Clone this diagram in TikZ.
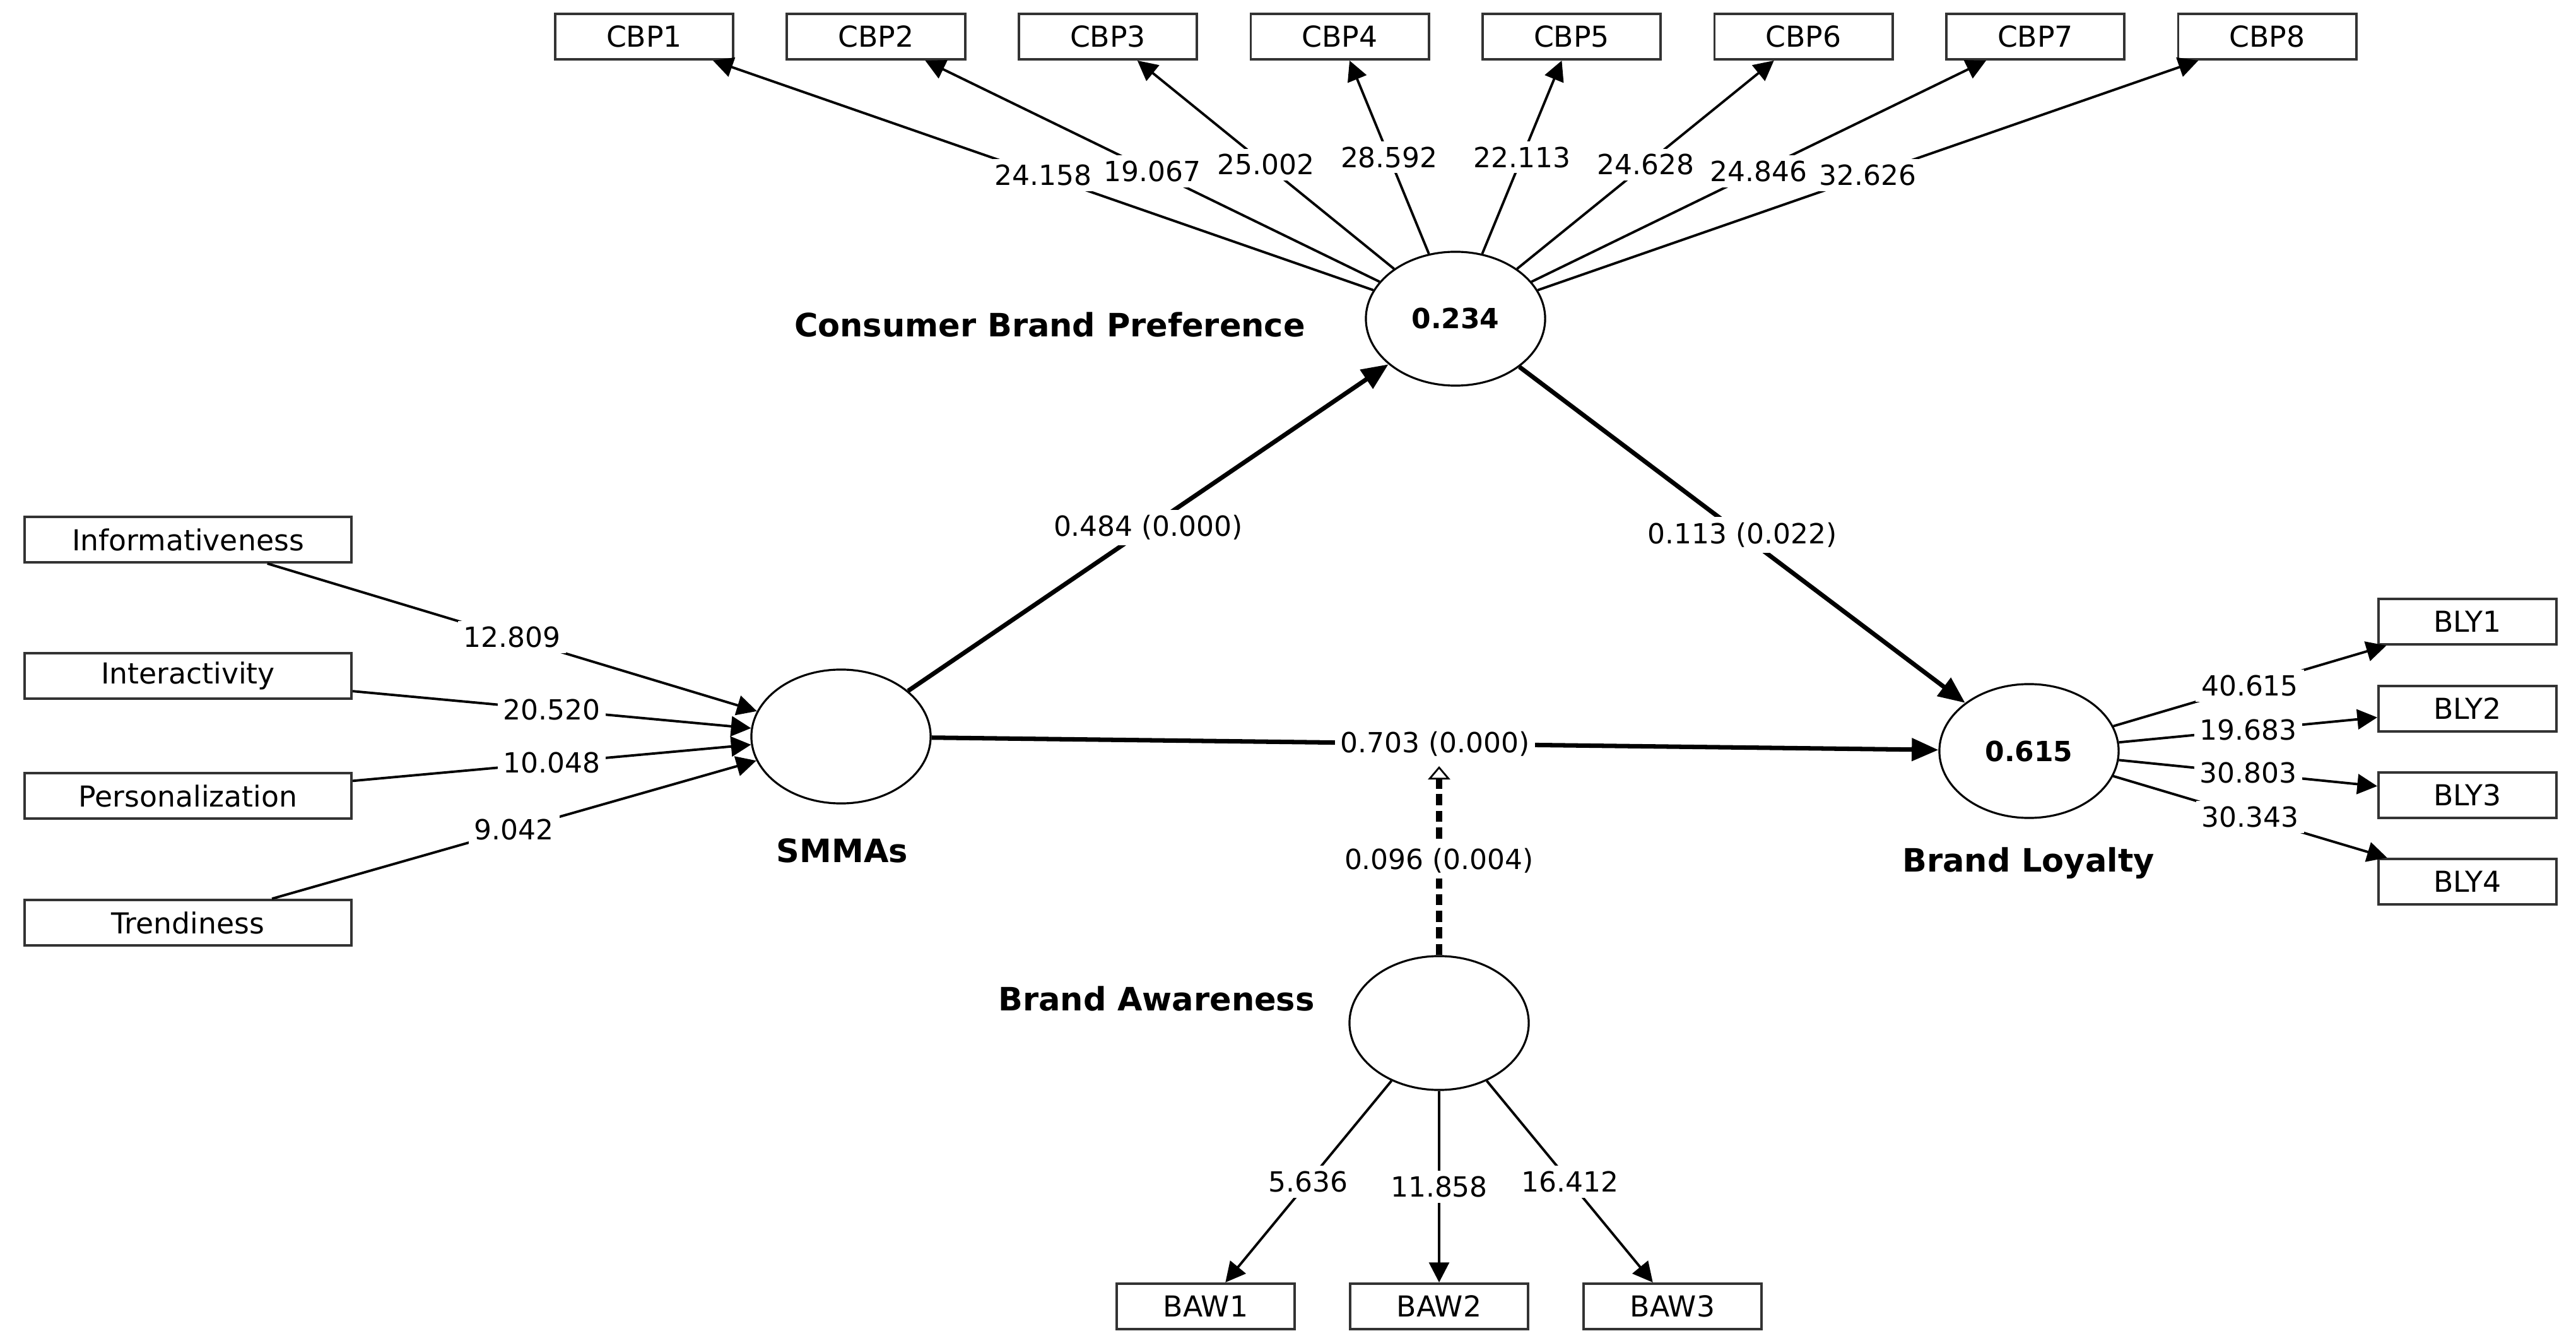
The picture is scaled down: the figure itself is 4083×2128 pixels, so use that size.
\documentclass[tikz,border=0pt]{standalone}
\usepackage{fontspec}
\setmainfont{DejaVu Sans}
\usetikzlibrary{shapes.geometric,arrows.meta}
\begin{document}
\begin{tikzpicture}[x=0.01cm,y=-0.01cm,
	    ind/.style={draw=black!80,line width=1.1pt,minimum width=2.82cm,minimum height=0.72cm,inner sep=0pt,font=\fontsize{13}{15}\selectfont},
	    wide/.style={ind,minimum width=5.18cm},
	    lv/.style={ellipse,draw,line width=0.9pt,minimum width=2.84cm,minimum height=2.12cm,inner sep=0pt,font=\fontsize{12.5}{15}\selectfont\bfseries},
	    lvtitle/.style={font=\fontsize{14.5}{17}\selectfont\bfseries},
	    loading/.style={line width=1.1pt,-{Triangle[length=9pt,width=9pt]}},
	    struct/.style={line width=2pt,-{Triangle[length=12pt,width=10pt]}},
	    modline/.style={line width=2.6pt,dash pattern=on 5pt off 2.5pt,-{Triangle[open,length=6pt,width=10pt,line width=0.8pt]}},
	    val/.style={midway,fill=white,inner sep=2.5pt,font=\fontsize{12.5}{15}\selectfont}]
	    \fill[white](0,0) rectangle (4083,2128);
	    \node[lv] (cbp) at (2307,505) {0.234};
	    \node[lv] (smma) at (1333,1167) {};
	    \node[lv] (bl) at (3216,1190) {0.615};
	    \node[lv] (ba) at (2281,1621) {};
	    \node[lvtitle] (cbptitle) at (1664,514) {Consumer Brand Preference};
	    \node[lvtitle] (smmatitle) at (1335,1348) {SMMAs};
	    \node[lvtitle] (bltitle) at (3215,1368) {Brand Loyalty};
	    \node[lvtitle] (batitle) at (1833,1582) {Brand Awareness};
	    \node[ind] (cbp1) at (1021,58) {CBP1};
	    \node[ind] (cbp2) at (1388.5,58) {CBP2};
	    \node[ind] (cbp3) at (1756,58) {CBP3};
	    \node[ind] (cbp4) at (2123.5,58) {CBP4};
	    \node[ind] (cbp5) at (2491,58) {CBP5};
	    \node[ind] (cbp6) at (2858.5,58) {CBP6};
	    \node[ind] (cbp7) at (3226,58) {CBP7};
	    \node[ind] (cbp8) at (3593.5,58) {CBP8};
	    \node[wide] (info) at (298,855) {Informativeness};
	    \node[wide] (inter) at (298,1071) {Interactivity};
	    \node[wide] (pers) at (298,1261) {Personalization};
	    \node[wide] (trend) at (298,1462) {Trendiness};
	    \node[ind] (bly1) at (3911,985) {BLY1};
	    \node[ind] (bly2) at (3911,1123) {BLY2};
	    \node[ind] (bly3) at (3911,1260) {BLY3};
	    \node[ind] (bly4) at (3911,1397) {BLY4};
	    \node[ind] (baw1) at (1911,2070) {BAW1};
	    \node[ind] (baw2) at (2281,2070) {BAW2};
	    \node[ind] (baw3) at (2651,2070) {BAW3};
	    \coordinate (mod) at (2281,1214);
	    \draw[loading](cbp)--(cbp1) node[val]{24.158};
	    \draw[loading](cbp)--(cbp2) node[val]{19.067};
	    \draw[loading](cbp)--(cbp3) node[val]{25.002};
	    \draw[loading](cbp)--(cbp4) node[val]{28.592};
	    \draw[loading](cbp)--(cbp5) node[val]{22.113};
	    \draw[loading](cbp)--(cbp6) node[val]{24.628};
	    \draw[loading](cbp)--(cbp7) node[val]{24.846};
	    \draw[loading](cbp)--(cbp8) node[val]{32.626};
	    \draw[loading](info)--(smma) node[val]{12.809};
	    \draw[loading](inter)--(smma) node[val]{20.520};
	    \draw[loading](pers)--(smma) node[val]{10.048};
	    \draw[loading](trend)--(smma) node[val]{9.042};
	    \draw[loading](bl)--(bly1) node[val]{40.615};
	    \draw[loading](bl)--(bly2) node[val]{19.683};
	    \draw[loading](bl)--(bly3) node[val]{30.803};
	    \draw[loading](bl)--(bly4) node[val]{30.343};
	    \draw[loading](ba)--(baw1) node[val]{5.636};
	    \draw[loading](ba)--(baw2) node[val]{11.858};
	    \draw[loading](ba)--(baw3) node[val]{16.412};
	    \draw[struct](smma)--(cbp) node[val]{0.484 (0.000)};
	    \draw[struct](cbp)--(bl) node[val]{0.113 (0.022)};
	    \draw[modline](ba)--(mod) node[val]{0.096 (0.004)};
	    \draw[struct](smma)--(bl) node[val]{0.703 (0.000)};
	\end{tikzpicture}
\end{document}
